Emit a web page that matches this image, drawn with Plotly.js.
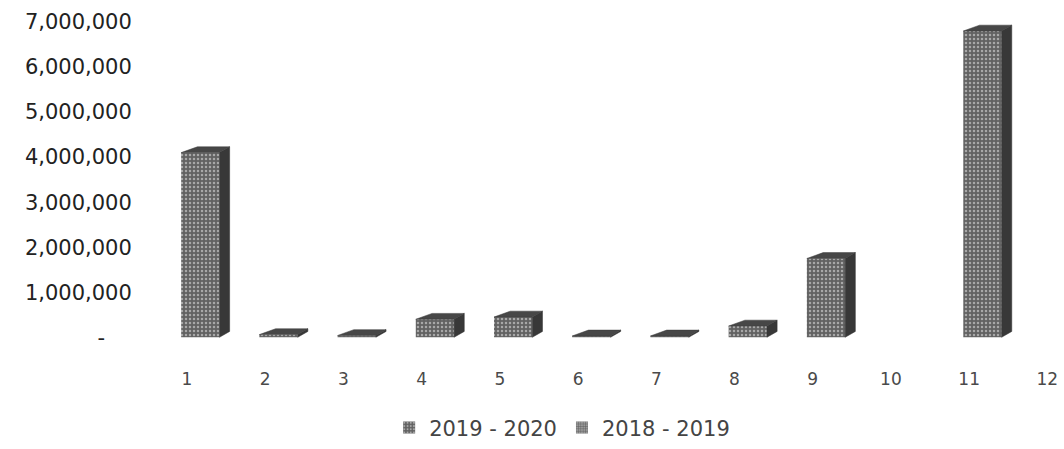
<!DOCTYPE html>
<html>
<head>
<meta charset="utf-8">
<script src="https://cdn.plot.ly/plotly-3.0.1.min.js"></script>
<style>
  html, body { margin: 0; padding: 0; background: #fff; }
  #chart { width: 1064px; height: 449px; }
</style>
</head>
<body>
<div id="chart"></div>
<script>
// Categories and series values
const categories = [1, 2, 3, 4, 5, 6, 7, 8, 9, 10, 11, 12];
const series2019_2020 = [4100000, 60000, 40000, 400000, 450000, 30000, 30000, 250000, 1750000, 0, 6800000, 0];
const series2018_2019 = [0, 0, 0, 0, 0, 0, 0, 0, 0, 0, 0, 0];
const seriesNames = ['2019 - 2020', '2018 - 2019'];
const yTickValues = [0, 1000000, 2000000, 3000000, 4000000, 5000000, 6000000, 7000000];
const yTickLabels = ['-\u00a0\u00a0\u00a0\u00a0', '1,000,000', '2,000,000', '3,000,000', '4,000,000', '5,000,000', '6,000,000', '7,000,000'];

// Pseudo-3D geometry of each column (category units / value units)
const faceOffset = -0.075;   // front face start relative to category
const faceWidth = 0.49;      // front face width
const depthX = 0.13;         // horizontal depth of the side/top faces
const depthY = 130000;       // vertical depth of the top face

// Build side and top faces from the series values
function buildFaces(values) {
  const side = { x: [], y: [] };
  const top = { x: [], y: [] };
  categories.forEach((c, i) => {
    const v = values[i];
    if (!v) return;
    const x0 = c + faceOffset;
    const x1 = x0 + faceWidth;
    side.x.push(x1, x1 + depthX, x1 + depthX, x1, x1, null);
    side.y.push(0, depthY, v + depthY, v, 0, null);
    top.x.push(x0, x1, x1 + depthX, x0 + depthX * 1.6, x0, null);
    top.y.push(v, v, v + depthY, v + depthY, v, null);
  });
  return { side, top };
}

const faces = buildFaces(series2019_2020);

const data = [
  {
    type: 'bar',
    name: seriesNames[0],
    x: categories,
    y: series2019_2020,
    offset: faceOffset,
    width: faceWidth,
    marker: {
      color: '#6e6e6e',
      line: { width: 0 },
      pattern: { shape: '.', fgcolor: '#a8a8a8', bgcolor: '#626262', size: 4, solidity: 0.3 }
    },
    hoverinfo: 'x+y'
  },
  {
    type: 'bar',
    name: seriesNames[1],
    x: categories,
    y: series2018_2019,
    offset: faceOffset,
    width: faceWidth,
    marker: {
      color: '#8a8a8a',
      line: { width: 0 },
      pattern: { shape: '+', fgcolor: '#555555', bgcolor: '#9a9a9a', size: 3, solidity: 0.3 }
    },
    hoverinfo: 'x+y'
  },
  {
    type: 'scatter',
    mode: 'lines',
    x: faces.side.x,
    y: faces.side.y,
    fill: 'toself',
    fillcolor: '#383838',
    line: { width: 0.5, color: '#333333' },
    showlegend: false,
    hoverinfo: 'skip'
  },
  {
    type: 'scatter',
    mode: 'lines',
    x: faces.top.x,
    y: faces.top.y,
    fill: 'toself',
    fillcolor: '#474747',
    line: { width: 0.5, color: '#3a3a3a' },
    showlegend: false,
    hoverinfo: 'skip'
  }
];

const layout = {
  width: 1064,
  height: 449,
  margin: { l: 144, r: 1, t: 13, b: 93 },
  paper_bgcolor: '#ffffff',
  plot_bgcolor: '#ffffff',
  barmode: 'overlay',
  showlegend: true,
  xaxis: {
    type: 'linear',
    range: [0.45, 12.2],
    tickvals: categories,
    ticktext: categories.map(String),
    showgrid: false,
    zeroline: false,
    showline: false,
    ticks: 'outside',
    ticklen: 15,
    tickcolor: 'rgba(0,0,0,0)',
    tickfont: { family: 'DejaVu Sans', size: 17, color: '#4a4a4a' },
    fixedrange: true
  },
  yaxis: {
    range: [-260000, 7200000],
    tickvals: yTickValues,
    ticktext: yTickLabels,
    showgrid: false,
    zeroline: false,
    showline: false,
    ticks: 'outside',
    ticklen: 7,
    tickcolor: 'rgba(0,0,0,0)',
    tickfont: { family: 'DejaVu Sans', size: 21, color: '#222222' },
    fixedrange: true
  },
  legend: {
    orientation: 'h',
    x: 0.455,
    xanchor: 'center',
    y: -0.235,
    yanchor: 'middle',
    font: { family: 'DejaVu Sans', size: 21, color: '#444444' },
    itemwidth: 30,
    traceorder: 'normal'
  }
};

Plotly.newPlot('chart', data, layout, { displayModeBar: false, staticPlot: true });
</script>
</body>
</html>
